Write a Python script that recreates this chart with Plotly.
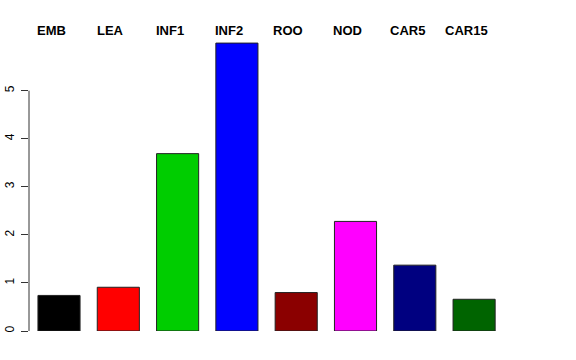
import plotly.graph_objects as go

categories = ["EMB", "LEA", "INF1", "INF2", "ROO", "NOD", "CAR5", "CAR15"]
values = [0.74, 0.91, 3.69, 5.99, 0.80, 2.28, 1.37, 0.66]
colors = ["#000000", "#FF0000", "#00CD00", "#0000FF", "#8B0000", "#FF00FF", "#000080", "#006400"]
y_ticks = [0, 1, 2, 3, 4, 5]

xs = list(range(len(categories)))

fig = go.Figure()
fig.add_trace(go.Bar(
    x=xs, y=values, width=0.71,
    marker=dict(color=colors, line=dict(color="#222222", width=1)),
    hoverinfo="skip",
))

for i, c in enumerate(categories):
    fig.add_annotation(x=i - 0.13, y=1.01, xref="x", yref="paper", text="<b>%s</b>" % c,
                       showarrow=False, xanchor="center", yanchor="middle",
                       font=dict(family="Liberation Sans", size=13, color="black"))

# y axis line only from 0 to 5 like R
fig.add_shape(type="line", xref="paper", yref="y", x0=0, x1=0, y0=0, y1=5,
              line=dict(color="#333333", width=1))

fig.update_layout(
    width=576, height=360,
    margin=dict(l=29, r=56, t=33, b=29, autoexpand=False),
    plot_bgcolor="white", paper_bgcolor="white",
    showlegend=False,
    font=dict(family="Liberation Sans", size=12, color="black"),
    xaxis=dict(range=[-0.506, 7.774], showticklabels=False, showgrid=False,
               zeroline=False, showline=False, ticks="", automargin=False),
    yaxis=dict(range=[0, 6.2], tickvals=y_ticks, ticktext=[str(v) for v in y_ticks],
               tickangle=-90, ticks="outside", ticklen=7, tickcolor="#333333",
               showgrid=False, zeroline=False, showline=False, automargin=False,
               ticklabelstandoff=2,
               tickfont=dict(family="Liberation Sans", size=12, color="black")),
)

fig.write_html("out.html", config={"displayModeBar": False},
               post_script="document.body.style.margin='0';document.body.style.padding='0';")
